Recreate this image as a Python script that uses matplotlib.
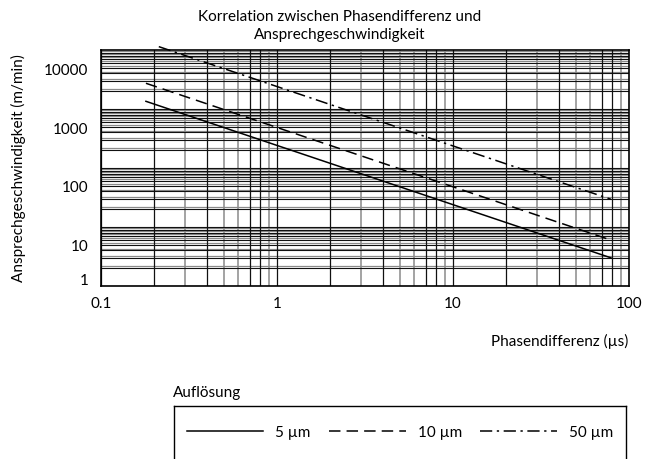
import matplotlib
matplotlib.use("Agg")
import matplotlib.pyplot as plt

plt.rcParams['font.family'] = ['Lato', 'DejaVu Sans']

# Curves: phase difference (µs) -> response speed (m/min), per resolution
phase_5um = [0.18, 79]
speed_5um = [1350, 3.0]
phase_10um = [0.18, 79]
speed_10um = [2730, 6.0]
phase_50um = [0.213, 79]
speed_50um = [11400, 29.5]

series_labels = ["5 µm", "10 µm", "50 µm"]
x_tick_values = [0.1, 1, 10, 100]
x_tick_labels = ["0.1", "1", "10", "100"]
y_tick_labels = ["1", "10", "100", "1000", "10000"]

title_text = "Korrelation zwischen Phasendifferenz und\nAnsprechgeschwindigkeit"
x_label = "Phasendifferenz (µs)"
y_label = "Ansprechgeschwindigkeit (m/min)"
legend_title = "Auflösung"

W, H = 645, 459
fig = plt.figure(figsize=(W / 100, H / 100), dpi=100)
fs = 11

ax = fig.add_axes([101 / W, 1 - 286 / H, 528 / W, 236 / H])
ax.set_xscale("log")
ax.set_yscale("log")
ax.set_xlim(0.1, 100)
ax.set_ylim(1, 10000)

# log-paper grid: black lines plus a lighter, slightly offset set
dark = "#111111"
grey = "#8a8a8a"
for n in range(0, 4):
    for k in range(1, 10):
        v = k * 10 ** n
        ax.axhline(v, color=dark, lw=0.8, zorder=1)
        if k > 1:
            ax.axhline(v * 1.08, color=grey, lw=0.9, zorder=0.9)
black_k = {1, 2, 4, 7, 8}
for n in range(-1, 2):
    for k in range(1, 10):
        v = k * 10 ** n
        if k in black_k:
            ax.axvline(v, color=dark, lw=0.9, zorder=1)
        else:
            ax.axvline(v, color=grey, lw=1.1, zorder=0.9)

l5, = ax.plot(phase_5um, speed_5um, color="black", lw=1.1, zorder=3,
              clip_on=False)
l10, = ax.plot(phase_10um, speed_10um, color="black", lw=1.1, zorder=3,
               dashes=(7.5, 4), clip_on=False)
l50, = ax.plot(phase_50um, speed_50um, color="black", lw=1.1, zorder=3,
               dashes=(8, 3, 1.5, 3), clip_on=False)

for s in ax.spines.values():
    s.set_color("black")
    s.set_linewidth(1.2)
    s.set_zorder(4)

ax.set_xticks(x_tick_values)
ax.set_xticklabels(x_tick_labels)
ax.xaxis.set_minor_locator(matplotlib.ticker.NullLocator())
ax.yaxis.set_minor_locator(matplotlib.ticker.NullLocator())
y_label_pos = [1.31, 4.95, 49.5, 476, 4760]
ax.set_yticks(y_label_pos)
ax.set_yticklabels(y_tick_labels)
ax.tick_params(axis="x", length=0, pad=8, labelsize=fs)
ax.tick_params(axis="y", length=0, pad=9, labelsize=fs)

fig.text(340 / W, 1 - 26 / H, title_text, ha="center", va="center",
         fontsize=fs, linespacing=1.3)
fig.text(628 / W, 1 - 341 / H, x_label, ha="right", va="center", fontsize=fs)
fig.text(18 / W, 1 - 168 / H, y_label, ha="center", va="center",
         rotation=90, fontsize=fs)

# Legend box, open at the bottom
fig.text(173 / W, 1 - 393 / H, legend_title, ha="left", va="center",
         fontsize=fs)
leg_ax = fig.add_axes([174 / W, 0, (626 - 174) / W, 1 - 406 / H])
leg_ax.set_xticks([])
leg_ax.set_yticks([])
leg_ax.spines["bottom"].set_visible(False)
for side in ("left", "top", "right"):
    leg_ax.spines[side].set_linewidth(1.0)
leg_ax.patch.set_alpha(0)
leg_ax.legend([l5, l10, l50], series_labels, ncol=3, loc="center",
              frameon=False, fontsize=fs, handlelength=5.0,
              handletextpad=0.8, columnspacing=1.2)

fig.savefig("out.png", dpi=100)
